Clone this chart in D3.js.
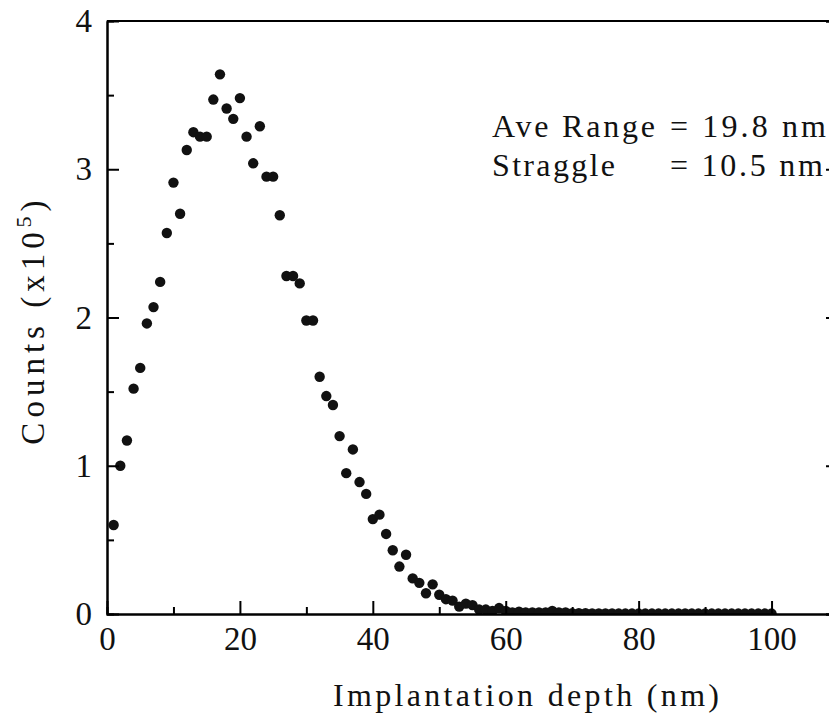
<!DOCTYPE html>
<html>
<head>
<meta charset="utf-8">
<script src="https://cdn.jsdelivr.net/npm/d3@7"></script>
<style>
  body { margin: 0; background: white; }
  svg text { font-family: "Liberation Serif", "Times New Roman", Times, serif; fill: #111; }
</style>
</head>
<body>
<div id="chart"></div>
<script>
// counts (x10^5) per 1 nm depth bin, depth = 1..100 nm
const counts = [
  0.60, 1.00, 1.17, 1.52, 1.66, 1.96, 2.07, 2.24, 2.57, 2.91,
  2.70, 3.13, 3.25, 3.22, 3.22, 3.47, 3.64, 3.41, 3.34, 3.48,
  3.22, 3.04, 3.29, 2.95, 2.95, 2.69, 2.28, 2.28, 2.23, 1.98,
  1.98, 1.60, 1.47, 1.41, 1.20, 0.95, 1.11, 0.89, 0.81, 0.64,
  0.67, 0.54, 0.43, 0.32, 0.40, 0.24, 0.21, 0.14, 0.20, 0.13,
  0.10, 0.09, 0.05, 0.07, 0.06, 0.03, 0.03, 0.02, 0.04, 0.02,
  0.01, 0.015, 0.01, 0.01, 0.01, 0.01, 0.02, 0.01, 0.01, 0.005,
  0.005, 0.005, 0.004, 0.004, 0.004, 0.004, 0.003, 0.003, 0.003, 0.003,
  0.003, 0.003, 0.003, 0.003, 0.003, 0.003, 0.004, 0.003, 0.003, 0.003,
  0.003, 0.003, 0.003, 0.003, 0.003, 0.003, 0.003, 0.003, 0.003, 0.003
];
const depths = counts.map((d, i) => i + 1);

const xMajor = [0, 20, 40, 60, 80, 100];
const xMinor = [10, 30, 50, 70, 90];
const yMajor = [0, 1, 2, 3, 4];
const yMinor = [0.5, 1.5, 2.5, 3.5];

const annotation = [
  { label: "Ave Range", value: "= 19.8 nm" },
  { label: "Straggle", value: "= 10.5 nm" }
];

const W = 829, H = 716;
const margin = { top: 21, right: -9, bottom: 102, left: 107 };
const width = W - margin.left - margin.right,
  height = H - margin.top - margin.bottom;
const serif = '"Liberation Serif", "Times New Roman", Times, serif';

const root = d3
  .select("#chart")
  .append("svg")
  .attr("width", W)
  .attr("height", H);

// dots are cut off at the axis line, like the original
root.append("defs")
  .append("clipPath")
  .attr("id", "plotClip")
  .append("rect")
  .attr("x", -10)
  .attr("y", -10)
  .attr("width", width + 20)
  .attr("height", height + 10);

const svg = root
  .append("g")
  .attr("transform", `translate(${margin.left},${margin.top})`);

const x = d3.scaleLinear().domain([0, 110]).range([0, width]);
const y = d3.scaleLinear().domain([0, 4]).range([height, 0]);

// data points
svg.append("g")
  .attr("clip-path", "url(#plotClip)")
  .selectAll("circle")
  .data(counts)
  .enter()
  .append("circle")
  .attr("cx", (d, i) => x(depths[i]))
  .attr("cy", (d) => y(d))
  .attr("r", 5.2)
  .attr("fill", "#111");

// frame (top + right)
svg.append("line")
  .attr("x1", 0).attr("x2", width).attr("y1", 0).attr("y2", 0)
  .attr("stroke", "#000").attr("stroke-width", 2);
svg.append("line")
  .attr("x1", width).attr("x2", width).attr("y1", 0).attr("y2", height)
  .attr("stroke", "#000").attr("stroke-width", 2);

function styleAxis(g) {
  g.attr("font-family", serif);
  g.selectAll("path, line").attr("stroke", "#000").attr("stroke-width", 2);
  g.selectAll("text")
    .attr("fill", "#111")
    .style("font-size", "33px")
    .style("font-family", serif);
}

// bottom axis
svg.append("g")
  .attr("transform", `translate(0,${height})`)
  .call(d3.axisBottom(x).tickValues(xMinor).tickSize(-7).tickFormat(""))
  .call(styleAxis);
svg.append("g")
  .attr("transform", `translate(0,${height})`)
  .call(d3.axisBottom(x).tickValues(xMajor).tickFormat(d3.format("d"))
    .tickSizeInner(-13).tickSizeOuter(0).tickPadding(13))
  .call(styleAxis);

// left axis
svg.append("g")
  .call(d3.axisLeft(y).tickValues(yMinor).tickSize(-7).tickFormat(""))
  .call(styleAxis);
svg.append("g")
  .call(d3.axisLeft(y).tickValues(yMajor).tickFormat(d3.format("d"))
    .tickSizeInner(-12).tickSizeOuter(0).tickPadding(15))
  .call(styleAxis);

// right axis ticks (no labels)
svg.append("g")
  .attr("transform", `translate(${width},0)`)
  .call(d3.axisRight(y).tickValues(yMinor).tickSize(-7).tickFormat(""))
  .call(styleAxis);
svg.append("g")
  .attr("transform", `translate(${width},0)`)
  .call(d3.axisRight(y).tickValues(yMajor).tickSize(-12).tickFormat(""))
  .call(styleAxis);

// axis titles
svg.append("text")
  .attr("x", 226)
  .attr("y", 685)
  .attr("textLength", 386)
  .attr("lengthAdjust", "spacing")
  .style("font-size", "32px")
  .text("Implantation depth (nm)");

const yTitle = svg.append("text")
  .attr("transform", `translate(${44 - margin.left},${320 - margin.top}) rotate(-90)`)
  .attr("text-anchor", "middle")
  .style("font-size", "33px")
  .style("letter-spacing", "5px");
yTitle.append("tspan").text("Counts (x10");
yTitle.append("tspan").attr("dy", -13).style("font-size", "22px").text("5");
yTitle.append("tspan").attr("dy", 13).text(")");

// annotation
const rowY = [137, 176];
annotation.forEach((row, i) => {
  svg.append("text")
    .attr("x", 492 - margin.left)
    .attr("y", rowY[i] - margin.top)
    .attr("textLength", i === 0 ? 163 : 123)
    .attr("lengthAdjust", "spacing")
    .style("font-size", "32px")
    .text(row.label);
  svg.append("text")
    .attr("x", 670 - margin.left)
    .attr("y", rowY[i] - margin.top)
    .attr("textLength", i === 0 ? 156 : 153)
    .attr("lengthAdjust", "spacing")
    .style("font-size", "32px")
    .text(row.value);
});
</script>
</body>
</html>
